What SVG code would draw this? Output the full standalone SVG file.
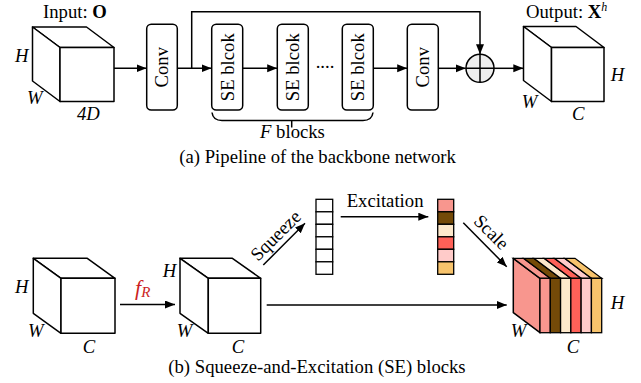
<svg xmlns="http://www.w3.org/2000/svg" width="641" height="383" viewBox="0 0 641 383">
<defs>
<marker id="ah" markerUnits="userSpaceOnUse" markerWidth="11" markerHeight="9" refX="10" refY="4" orient="auto">
<path d="M0,0 L10,4 L0,8 z" fill="#000"/>
</marker>
<style>
text{font-family:"Liberation Serif","Times New Roman",serif;font-size:18.7px;fill:#000}
.it{font-style:italic}
.b{font-weight:bold}
.box{fill:#fff;stroke:#000;stroke-width:1.5}
.face{fill:#fff;stroke:#000;stroke-width:1.5;stroke-linejoin:round}
.ln{fill:none;stroke:#000;stroke-width:1.5}
.cell{stroke:#000;stroke-width:1.3}
</style>
</defs>
<rect width="641" height="383" fill="#fff"/>

<g id="connectors">
<line class="ln" x1="114" y1="68.3" x2="146.5" y2="68.3" marker-end="url(#ah)"/>
<line class="ln" x1="177.3" y1="68.3" x2="211.5" y2="68.3" marker-end="url(#ah)"/>
<line class="ln" x1="242.7" y1="68.3" x2="277.2" y2="68.3" marker-end="url(#ah)"/>
<line class="ln" x1="373.3" y1="68.3" x2="407.2" y2="68.3" marker-end="url(#ah)"/>
<line class="ln" x1="438.3" y1="68.3" x2="465.8" y2="68.3" marker-end="url(#ah)"/>
<line class="ln" x1="494" y1="68.3" x2="523.3" y2="68.3" marker-end="url(#ah)"/>
<path class="ln" d="M191.7,68.3 V11.7 H480 V54.2" marker-end="url(#ah)"/>
<line class="ln" x1="120" y1="304.5" x2="175" y2="304.5" marker-end="url(#ah)"/>
<line class="ln" x1="266.7" y1="305" x2="506.7" y2="305" marker-end="url(#ah)"/>
<line class="ln" x1="340.7" y1="216.7" x2="428.3" y2="216.7" marker-end="url(#ah)"/>
<line class="ln" x1="263.3" y1="265" x2="305" y2="223.3" marker-end="url(#ah)"/>
<line class="ln" x1="463.3" y1="222.7" x2="506.7" y2="266.7" marker-end="url(#ah)"/>
</g>

<g id="input-cube">
<polygon class="face" points="60,47.5 114,47.5 86.5,27 32.5,27"/>
<polygon class="face" points="60,47.5 32.5,27 32.5,81 60,101.5"/>
<rect class="face" x="60" y="47.5" width="54" height="54"/>
<text x="43" y="18">Input: <tspan class="b">O</tspan></text>
<text class="it" x="15" y="62">H</text>
<text class="it" x="27" y="104">W</text>
<text class="it" x="77" y="120">4D</text>
</g>

<g id="conv1">
<rect class="box" x="146.7" y="24.3" width="30.6" height="85.7" rx="4.5"/>
<text transform="translate(168,67.2) rotate(-90)" text-anchor="middle">Conv</text>
</g>
<g id="se1">
<rect class="box" x="211.7" y="24.3" width="31" height="85.7" rx="4.5"/>
<text transform="translate(233.5,67.2) rotate(-90)" text-anchor="middle">SE blcok</text>
</g>
<g id="se2">
<rect class="box" x="277.3" y="24.3" width="31" height="85.7" rx="4.5"/>
<text transform="translate(299.1,67.2) rotate(-90)" text-anchor="middle">SE blcok</text>
</g>
<g id="dots">
<text x="325" y="68" text-anchor="middle">....</text>
</g>
<g id="se3">
<rect class="box" x="342.3" y="24.3" width="31" height="85.7" rx="4.5"/>
<text transform="translate(364.1,67.2) rotate(-90)" text-anchor="middle">SE blcok</text>
</g>
<g id="brace">
<path class="ln" d="M212,112.5 Q213,120.5 222,120.5 H363 Q372,120.5 373,112.5 M291.7,120.5 V127.5"/>
<text x="260" y="138"><tspan class="it">F</tspan> blocks</text>
</g>
<g id="conv2">
<rect class="box" x="407.3" y="24.3" width="31" height="85.7" rx="4.5"/>
<text transform="translate(429,67.2) rotate(-90)" text-anchor="middle">Conv</text>
</g>
<g id="add">
<circle cx="480" cy="68.3" r="14" fill="#eeeeee" stroke="#000" stroke-width="1.5"/>
<path class="ln" d="M466,68.3 H494 M480,54.3 V82.3" stroke-width="2"/>
</g>
<g id="output-cube">
<polygon class="face" points="551.5,47.5 604,47.5 576,26.5 523.5,26.5"/>
<polygon class="face" points="551.5,47.5 523.5,26.5 523.5,80.5 551.5,101.5"/>
<rect class="face" x="551.5" y="47.5" width="52.5" height="54"/>
<text x="526" y="18">Output: <tspan class="b">X</tspan><tspan class="it" font-size="12" dy="-7">h</tspan></text>
<text class="it" x="610.7" y="81">H</text>
<text class="it" x="521.7" y="108">W</text>
<text class="it" x="572" y="120">C</text>
</g>
<text id="caption-a" x="179.3" y="163.3">(a) Pipeline of the backbone network</text>

<g id="cube-b1">
<polygon class="face" points="61,278.3 115,278.3 87.3,258.3 33.3,258.3"/>
<polygon class="face" points="61,278.3 33.3,258.3 33.3,313.3 61,333.3"/>
<rect class="face" x="61" y="278.3" width="54" height="55"/>
<text class="it" x="15" y="293">H</text>
<text class="it" x="28" y="336.7">W</text>
<text class="it" x="82.7" y="353">C</text>
</g>
<g id="fR">
<text class="it" x="135" y="295" fill="#cc1f1f" style="fill:#cc1f1f;font-size:22px">f<tspan font-size="15" dy="2">R</tspan></text>
</g>
<g id="cube-b2">
<polygon class="face" points="208.3,278.3 260.7,278.3 232.4,258.3 180,258.3"/>
<polygon class="face" points="208.3,278.3 180,258.3 180,313.3 208.3,333.3"/>
<rect class="face" x="208.3" y="278.3" width="52.4" height="55"/>
<text class="it" x="162.7" y="276.7">H</text>
<text class="it" x="176.7" y="336.7">W</text>
<text class="it" x="231.7" y="353">C</text>
</g>
<g id="squeeze-label">
<text transform="translate(280,240) rotate(-45)" text-anchor="middle">Squeeze</text>
</g>
<g id="squeeze-vector">
<rect class="cell" fill="#fff" x="316" y="199.3" width="16.7" height="12.5"/>
<rect class="cell" fill="#fff" x="316" y="211.8" width="16.7" height="12.5"/>
<rect class="cell" fill="#fff" x="316" y="224.3" width="16.7" height="12.5"/>
<rect class="cell" fill="#fff" x="316" y="236.8" width="16.7" height="12.5"/>
<rect class="cell" fill="#fff" x="316" y="249.3" width="16.7" height="12.5"/>
<rect class="cell" fill="#fff" x="316" y="261.8" width="16.7" height="12.5"/>
</g>
<text id="excitation-label" x="346.7" y="207.3">Excitation</text>
<g id="excitation-vector">
<rect class="cell" fill="#f8968e" x="437.7" y="199.3" width="16" height="12.5"/>
<rect class="cell" fill="#744a08" x="437.7" y="211.8" width="16" height="12.5"/>
<rect class="cell" fill="#fde8cb" x="437.7" y="224.3" width="16" height="12.5"/>
<rect class="cell" fill="#ff6158" x="437.7" y="236.8" width="16" height="12.5"/>
<rect class="cell" fill="#ffcbc9" x="437.7" y="249.3" width="16" height="12.5"/>
<rect class="cell" fill="#f7c36c" x="437.7" y="261.8" width="16" height="12.5"/>
</g>
<g id="scale-label">
<text transform="translate(487,236.5) rotate(45)" text-anchor="middle">Scale</text>
</g>
<g id="scaled-cube">
<polygon class="face" style="fill:#f8968e" points="540,278.3 513.3,258.3 513.3,312.7 540,332.7"/>
<polygon class="cell" fill="#f8968e" points="540,278.3 550.28,278.3 523.58,258.3 513.3,258.3"/>
<polygon class="cell" fill="#744a08" points="550.28,278.3 560.57,278.3 533.87,258.3 523.58,258.3"/>
<polygon class="cell" fill="#fde8cb" points="560.57,278.3 570.85,278.3 544.15,258.3 533.87,258.3"/>
<polygon class="cell" fill="#ff6158" points="570.85,278.3 581.13,278.3 554.43,258.3 544.15,258.3"/>
<polygon class="cell" fill="#ffcbc9" points="581.13,278.3 591.42,278.3 564.72,258.3 554.43,258.3"/>
<polygon class="cell" fill="#f7c36c" points="591.42,278.3 601.7,278.3 575,258.3 564.72,258.3"/>
<rect class="cell" fill="#f8968e" x="540" y="278.3" width="10.28" height="54.4"/>
<rect class="cell" fill="#744a08" x="550.28" y="278.3" width="10.29" height="54.4"/>
<rect class="cell" fill="#fde8cb" x="560.57" y="278.3" width="10.28" height="54.4"/>
<rect class="cell" fill="#ff6158" x="570.85" y="278.3" width="10.28" height="54.4"/>
<rect class="cell" fill="#ffcbc9" x="581.13" y="278.3" width="10.29" height="54.4"/>
<rect class="cell" fill="#f7c36c" x="591.42" y="278.3" width="10.28" height="54.4"/>
<text class="it" x="610.7" y="309.3">H</text>
<text class="it" x="510.7" y="337.3">W</text>
<text class="it" x="566.7" y="352.7">C</text>
</g>
<text id="caption-b" x="168.3" y="372.7">(b) Squeeze-and-Excitation (SE) blocks</text>
</svg>
